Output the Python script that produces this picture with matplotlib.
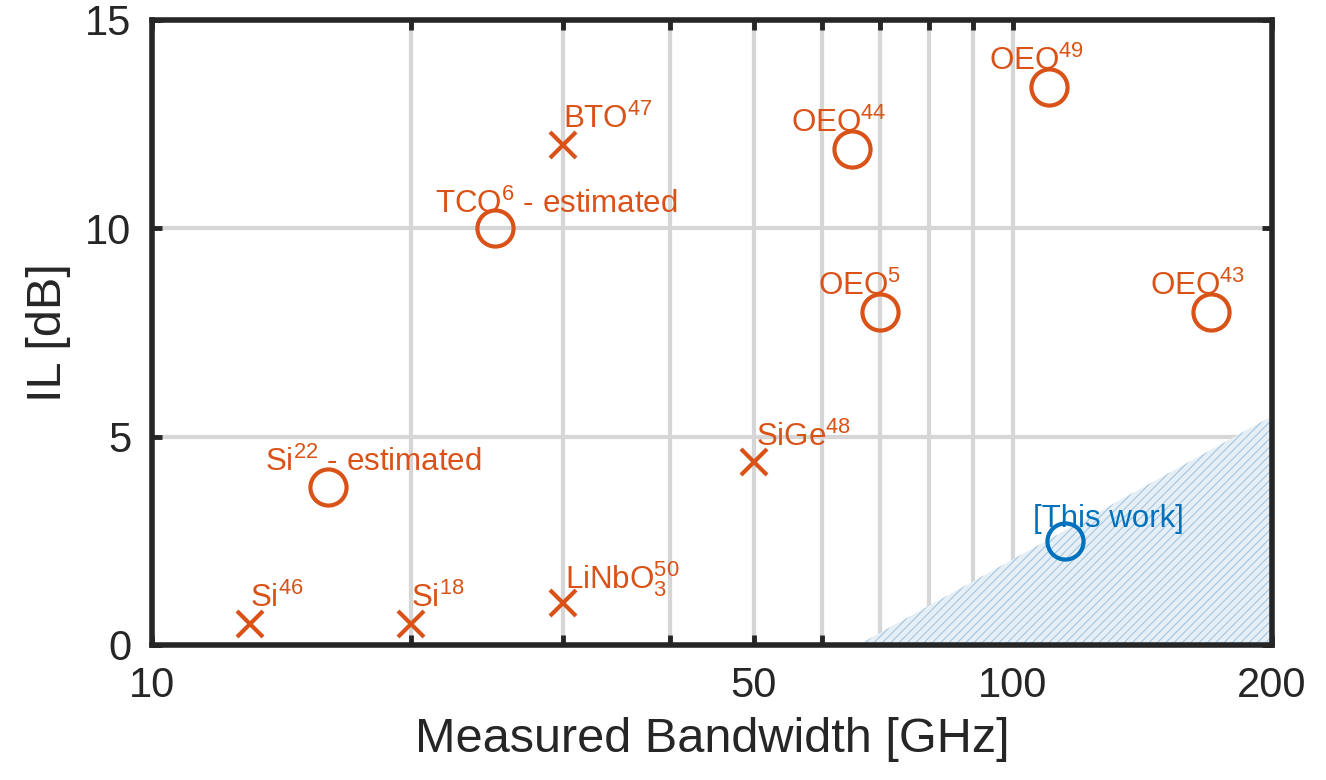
import matplotlib
matplotlib.use("Agg")
import matplotlib.pyplot as plt

plt.rcParams['font.family'] = ['Liberation Sans', 'DejaVu Sans']
plt.rcParams['mathtext.fontset'] = 'custom'
plt.rcParams['mathtext.rm'] = 'Liberation Sans'
plt.rcParams['hatch.linewidth'] = 0.7

orange = '#D95319'
blue = '#0072BD'

# crosses (other work)
x_labels = [r'Si$^{46}$', r'Si$^{18}$', r'LiNbO$_3^{50}$', r'SiGe$^{48}$', r'BTO$^{47}$']
x_bw = [13, 20, 30, 50, 30]
x_il = [0.5, 0.5, 1.0, 4.4, 12.0]
x_off = [(0, 12), (0, 12), (2, 11), (2, 11), (0, 12)]

# circles (other work)
o_labels = [r'Si$^{22}$ - estimated', r'TCO$^{6}$ - estimated', r'OEO$^{44}$',
            r'OEO$^{49}$', r'OEO$^{5}$', r'OEO$^{43}$']
o_bw = [16, 25, 65, 110, 70, 170]
o_il = [3.8, 10.0, 11.9, 13.4, 8.0, 8.0]
o_off = [(-45, 11), (-43, 11), (-44, 12), (-43, 12), (-44, 12), (-44, 12)]

# this work
tw_bw = [115]
tw_il = [2.5]

# shaded region vertices
region_bw = [66, 200, 200]
region_il = [0, 0, 5.5]

fig = plt.figure(figsize=(13.26, 7.8), dpi=100)
ax = fig.add_axes([0.1146, 0.1731, 0.8447, 0.8013])

ax.fill(region_bw, region_il, facecolor='#e6eff6', edgecolor='none', zorder=1)
ax.fill(region_bw, region_il, facecolor='none', edgecolor='#9bc0dd', linewidth=0,
        hatch='////', zorder=1.5)

ax.plot(x_bw, x_il, linestyle='none', marker='x', markersize=19, mew=3, color=orange, zorder=3)
ax.plot(o_bw, o_il, linestyle='none', marker='o', markersize=26, mew=3, mfc='none', color=orange, zorder=3)
ax.plot(tw_bw, tw_il, linestyle='none', marker='o', markersize=26, mew=3, mfc='none', color=blue, zorder=3)

for lab, bx, by, off in zip(x_labels, x_bw, x_il, x_off):
    ax.annotate(lab, (bx, by), xytext=off, textcoords='offset points',
                fontsize=22.5, color=orange, ha='left', va='baseline', zorder=4)
for lab, bx, by, off in zip(o_labels, o_bw, o_il, o_off):
    ax.annotate(lab, (bx, by), xytext=off, textcoords='offset points',
                fontsize=22.5, color=orange, ha='left', va='baseline', zorder=4)
ax.annotate('[This work]', (tw_bw[0], tw_il[0]), xytext=(-23, 10), textcoords='offset points',
            fontsize=22.5, color=blue, ha='left', va='baseline', zorder=4)

ax.set_xscale('log')
ax.set_xlim(10, 200)
ax.set_ylim(0, 15)
ax.set_xticks([10, 50, 100, 200])
ax.set_xticklabels(['10', '50', '100', '200'])
ax.set_xticks([20, 30, 40, 60, 70, 80, 90], minor=True)
ax.set_xticklabels([], minor=True)
ax.set_yticks([0, 5, 10, 15])

ax.grid(True, which='both', axis='x', color='#d6d6d6', linewidth=3, zorder=0)
ax.grid(True, which='major', axis='y', color='#d6d6d6', linewidth=3, zorder=0)
ax.set_axisbelow(True)

ax.tick_params(which='both', direction='in', length=7, width=3.5, color='#262626',
               top=True, right=True, labelsize=30, labelcolor='#262626')
ax.tick_params(axis='x', which='both', pad=15)
ax.tick_params(axis='y', which='both', pad=15)
for s in ax.spines.values():
    s.set_linewidth(4)
    s.set_color('#262626')
    s.set_zorder(5)

ax.set_xlabel('Measured Bandwidth [GHz]', fontsize=35, color='#262626', labelpad=8)
ax.set_ylabel('IL [dB]', fontsize=35, color='#262626', labelpad=10)

fig.savefig('out.png', dpi=100)
